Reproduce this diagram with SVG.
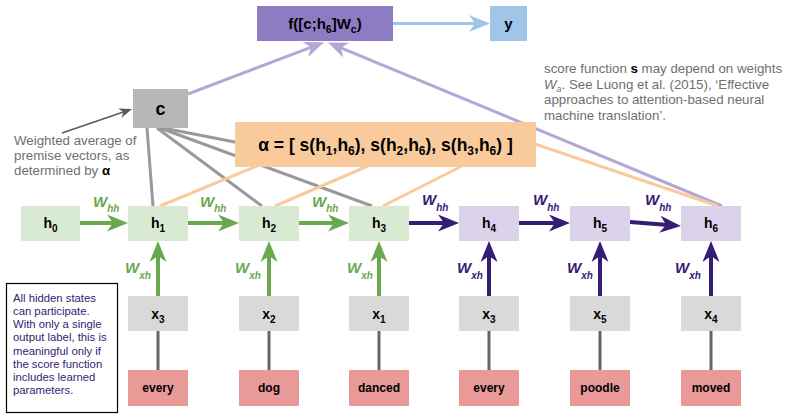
<svg xmlns="http://www.w3.org/2000/svg" width="788" height="417" viewBox="0 0 788 417">
<style>
text{font-family:"Liberation Sans",Arial,sans-serif}
.b{font-weight:bold;fill:#000}
.lbl{font-weight:bold;font-size:14px;text-anchor:middle;fill:#000}
.sub{font-size:10px}
.wd{font-weight:bold;font-size:12px;text-anchor:middle;fill:#000}
.wg{font-weight:bold;font-style:italic;font-size:15px;fill:#6aa84f}
.wp{font-weight:bold;font-style:italic;font-size:15px;fill:#351c75}
.ws{font-size:10px}
.hg{fill:#d9ead3}
.hp{fill:#d9d2e9}
.xb{fill:#d9d9d9}
.wb{fill:#ea9999}
.ag{stroke:#6aa84f;stroke-width:4;fill:none}
.ap{stroke:#351c75;stroke-width:4;fill:none}
.gl{stroke:#999;stroke-width:3;fill:none}
.ol{stroke:#f9cb9c;stroke-width:3;fill:none}
.ll{stroke:#b4a7d6;stroke-width:3;fill:none}
.xl{stroke:#666;stroke-width:3;fill:none}
.gt{font-size:13.3px;fill:#6f6f6f}
.nt{font-size:11.3px;fill:#351c75}
</style>
<defs>
<marker id="mg" markerUnits="userSpaceOnUse" markerWidth="22" markerHeight="18" viewBox="0 0 22 18" refX="15" refY="9" orient="auto"><path d="M0,0.5 L21,9 L0,17.5 L6,9 Z" fill="#6aa84f"/></marker>
<marker id="mp" markerUnits="userSpaceOnUse" markerWidth="22" markerHeight="18" viewBox="0 0 22 18" refX="15" refY="9" orient="auto"><path d="M0,0.5 L21,9 L0,17.5 L6,9 Z" fill="#351c75"/></marker>
<marker id="mb" markerUnits="userSpaceOnUse" markerWidth="22" markerHeight="18" viewBox="0 0 22 18" refX="15" refY="9" orient="auto"><path d="M0,0.5 L21,9 L0,17.5 L6,9 Z" fill="#9fc5e8"/></marker>
<marker id="ml" markerUnits="userSpaceOnUse" markerWidth="22" markerHeight="18" viewBox="0 0 22 18" refX="15" refY="9" orient="auto"><path d="M0,1 L20,9 L0,17 L6,9 Z" fill="#b4a7d6"/></marker>
<marker id="md" markerUnits="userSpaceOnUse" markerWidth="14" markerHeight="12" viewBox="0 0 14 12" refX="10" refY="6" orient="auto"><path d="M0,1 L13,6 L0,11 L4,6 Z" fill="#595959"/></marker>
</defs>

<!-- connectors -->
<g id="connectors">
  <!-- gray lines from c -->
  <line class="gl" x1="147" y1="128" x2="153" y2="206"/>
  <line class="gl" x1="157" y1="128" x2="262" y2="206"/>
  <line class="gl" x1="160" y1="128" x2="372" y2="206"/>
  <line class="gl" x1="163" y1="128" x2="240" y2="143"/>
  <!-- lavender to f -->
  <line class="ll" x1="722" y1="206" x2="332.5" y2="44.3" marker-end="url(#ml)"/>
  <line class="ll" x1="188" y1="94" x2="319.4" y2="44.1" marker-end="url(#ml)"/>
  <!-- blue f->y -->
  <line x1="393" y1="23.5" x2="484" y2="23.5" stroke="#9fc5e8" stroke-width="3" marker-end="url(#mb)"/>
  <!-- annotation arrow -->
  <line x1="62" y1="133" x2="129.2" y2="110" stroke="#595959" stroke-width="1.5" marker-end="url(#md)"/>
  <!-- orange lines -->
  <line class="ol" x1="160" y1="206" x2="257" y2="166"/>
  <line class="ol" x1="275" y1="206" x2="368" y2="166"/>
  <line class="ol" x1="383" y1="206" x2="462" y2="166"/>
  <line class="ol" x1="535" y1="144" x2="718" y2="206"/>
  <!-- horizontal recurrences -->
  <line class="ag" x1="80" y1="223" x2="122" y2="223" marker-end="url(#mg)"/>
  <line class="ag" x1="188" y1="223" x2="233" y2="223" marker-end="url(#mg)"/>
  <line class="ag" x1="299" y1="223" x2="343" y2="223" marker-end="url(#mg)"/>
  <line class="ap" x1="409" y1="223" x2="453" y2="223" marker-end="url(#mp)"/>
  <line class="ap" x1="519" y1="223" x2="564" y2="223" marker-end="url(#mp)"/>
  <line class="ap" x1="630" y1="222" x2="675" y2="225.5" marker-end="url(#mp)"/>
  <!-- vertical inputs -->
  <line class="ag" x1="158" y1="296" x2="158" y2="247" marker-end="url(#mg)"/>
  <line class="ag" x1="269" y1="296" x2="269" y2="247" marker-end="url(#mg)"/>
  <line class="ag" x1="379" y1="296" x2="379" y2="247" marker-end="url(#mg)"/>
  <line class="ap" x1="489" y1="296" x2="489" y2="247" marker-end="url(#mp)"/>
  <line class="ap" x1="600" y1="296" x2="600" y2="247" marker-end="url(#mp)"/>
  <line class="ap" x1="711" y1="296" x2="711" y2="247" marker-end="url(#mp)"/>
  <!-- word to x -->
  <line class="xl" x1="158" y1="331" x2="158" y2="370"/>
  <line class="xl" x1="269" y1="331" x2="269" y2="370"/>
  <line class="xl" x1="379" y1="331" x2="379" y2="370"/>
  <line class="xl" x1="489" y1="331" x2="489" y2="370"/>
  <line class="xl" x1="600" y1="331" x2="600" y2="370"/>
  <line class="xl" x1="711" y1="331" x2="711" y2="370"/>
  <!-- weight labels -->
  <text class="wg" x="93" y="207">W<tspan class="ws" dy="5">hh</tspan></text>
  <text class="wg" x="200" y="207">W<tspan class="ws" dy="5">hh</tspan></text>
  <text class="wg" x="312" y="207">W<tspan class="ws" dy="5">hh</tspan></text>
  <text class="wp" x="422" y="205">W<tspan class="ws" dy="6">hh</tspan></text>
  <text class="wp" x="533" y="205">W<tspan class="ws" dy="6">hh</tspan></text>
  <text class="wp" x="645" y="205">W<tspan class="ws" dy="6">hh</tspan></text>
  <text class="wg" x="125" y="273">W<tspan class="ws" dy="6">xh</tspan></text>
  <text class="wg" x="235" y="273">W<tspan class="ws" dy="6">xh</tspan></text>
  <text class="wg" x="347" y="273">W<tspan class="ws" dy="6">xh</tspan></text>
  <text class="wp" x="457" y="273">W<tspan class="ws" dy="6">xh</tspan></text>
  <text class="wp" x="567" y="273">W<tspan class="ws" dy="6">xh</tspan></text>
  <text class="wp" x="675" y="273">W<tspan class="ws" dy="6">xh</tspan></text>
</g>

<g id="alpha">
  <rect x="235" y="122" width="301" height="45" fill="#f9cb9c"/>
  <text x="385.5" y="151" text-anchor="middle" class="b" font-size="17.5px">α = [ s(h<tspan font-size="12px" dy="4">1</tspan><tspan dy="-4">,h</tspan><tspan font-size="12px" dy="4">6</tspan><tspan dy="-4">), s(h</tspan><tspan font-size="12px" dy="4">2</tspan><tspan dy="-4">,h</tspan><tspan font-size="12px" dy="4">6</tspan><tspan dy="-4">), s(h</tspan><tspan font-size="12px" dy="4">3</tspan><tspan dy="-4">,h</tspan><tspan font-size="12px" dy="4">6</tspan><tspan dy="-4">) ]</tspan></text>
</g>

<g id="f">
  <rect x="257" y="6" width="136" height="35" fill="#8e7cc3"/>
  <text x="325" y="29" text-anchor="middle" class="b" font-size="15px">f([c;h<tspan font-size="10.5px" dy="4">6</tspan><tspan dy="-4">]W</tspan><tspan font-size="10.5px" dy="4">c</tspan><tspan dy="-4">)</tspan></text>
</g>
<g id="y">
  <rect x="490" y="6" width="37" height="35" fill="#9fc5e8"/>
  <text x="508.5" y="29" text-anchor="middle" class="b" font-size="15px">y</text>
</g>
<g id="c">
  <rect x="133" y="89" width="55" height="39" fill="#b7b7b7"/>
  <text x="160.5" y="115" text-anchor="middle" class="b" font-size="18px">c</text>
</g>

<g id="h0"><rect class="hg" x="21" y="206" width="59" height="35"/><text class="lbl" x="50.5" y="228">h<tspan class="sub" dy="4">0</tspan></text></g>
<g id="h1"><rect class="hg" x="128" y="206" width="60" height="35"/><text class="lbl" x="158" y="228">h<tspan class="sub" dy="4">1</tspan></text></g>
<g id="h2"><rect class="hg" x="239" y="206" width="60" height="35"/><text class="lbl" x="269" y="228">h<tspan class="sub" dy="4">2</tspan></text></g>
<g id="h3"><rect class="hg" x="349" y="206" width="60" height="35"/><text class="lbl" x="379" y="228">h<tspan class="sub" dy="4">3</tspan></text></g>
<g id="h4"><rect class="hp" x="459" y="206" width="60" height="35"/><text class="lbl" x="489" y="228">h<tspan class="sub" dy="4">4</tspan></text></g>
<g id="h5"><rect class="hp" x="570" y="206" width="60" height="35"/><text class="lbl" x="600" y="228">h<tspan class="sub" dy="4">5</tspan></text></g>
<g id="h6"><rect class="hp" x="681" y="206" width="60" height="35"/><text class="lbl" x="711" y="228">h<tspan class="sub" dy="4">6</tspan></text></g>

<g id="x_a"><rect class="xb" x="128" y="296" width="60" height="35"/><text class="lbl" x="158" y="319">x<tspan class="sub" dy="4">3</tspan></text></g>
<g id="x_b"><rect class="xb" x="239" y="296" width="60" height="35"/><text class="lbl" x="269" y="319">x<tspan class="sub" dy="4">2</tspan></text></g>
<g id="x_c"><rect class="xb" x="349" y="296" width="60" height="35"/><text class="lbl" x="379" y="319">x<tspan class="sub" dy="4">1</tspan></text></g>
<g id="x_d"><rect class="xb" x="459" y="296" width="60" height="35"/><text class="lbl" x="489" y="319">x<tspan class="sub" dy="4">3</tspan></text></g>
<g id="x_e"><rect class="xb" x="570" y="296" width="60" height="35"/><text class="lbl" x="600" y="319">x<tspan class="sub" dy="4">5</tspan></text></g>
<g id="x_f"><rect class="xb" x="681" y="296" width="60" height="35"/><text class="lbl" x="711" y="319">x<tspan class="sub" dy="4">4</tspan></text></g>

<g id="w_every1"><rect class="wb" x="128" y="370" width="60" height="36"/><text class="wd" x="158" y="392">every</text></g>
<g id="w_dog"><rect class="wb" x="239" y="370" width="60" height="36"/><text class="wd" x="269" y="392">dog</text></g>
<g id="w_danced"><rect class="wb" x="349" y="370" width="60" height="36"/><text class="wd" x="379" y="392">danced</text></g>
<g id="w_every2"><rect class="wb" x="459" y="370" width="60" height="36"/><text class="wd" x="489" y="392">every</text></g>
<g id="w_poodle"><rect class="wb" x="570" y="370" width="60" height="36"/><text class="wd" x="600" y="392">poodle</text></g>
<g id="w_moved"><rect class="wb" x="681" y="370" width="60" height="36"/><text class="wd" x="711" y="392">moved</text></g>

<g id="annotation">
  <text class="gt" x="14" y="144.5">Weighted average of</text>
  <text class="gt" x="14" y="159.5">premise vectors, as</text>
  <text class="gt" x="14" y="174.5">determined by <tspan class="b">α</tspan></text>
</g>

<g id="score-note">
  <text class="gt" x="544" y="72.8">score function <tspan class="b">s</tspan> may depend on weights</text>
  <text class="gt" x="544" y="88.5"><tspan font-style="italic">W</tspan><tspan font-style="italic" font-size="9px" dy="3">a</tspan><tspan dy="-3">. See Luong et al. (2015), ‘Effective</tspan></text>
  <text class="gt" x="544" y="104.3">approaches to attention-based neural</text>
  <text class="gt" x="544" y="119.8">machine translation’.</text>
</g>

<g id="note">
  <rect x="6.5" y="283.5" width="111" height="129" fill="#fff" stroke="#000" stroke-width="1.2"/>
  <text class="nt" x="13" y="302">All hidden states</text>
  <text class="nt" x="13" y="315.1">can participate.</text>
  <text class="nt" x="13" y="328.3">With only a single</text>
  <text class="nt" x="13" y="341.4">output label, this is</text>
  <text class="nt" x="13" y="354.6">meaningful only if</text>
  <text class="nt" x="13" y="367.7">the score function</text>
  <text class="nt" x="13" y="380.9">includes learned</text>
  <text class="nt" x="13" y="394">parameters.</text>
</g>
</svg>
